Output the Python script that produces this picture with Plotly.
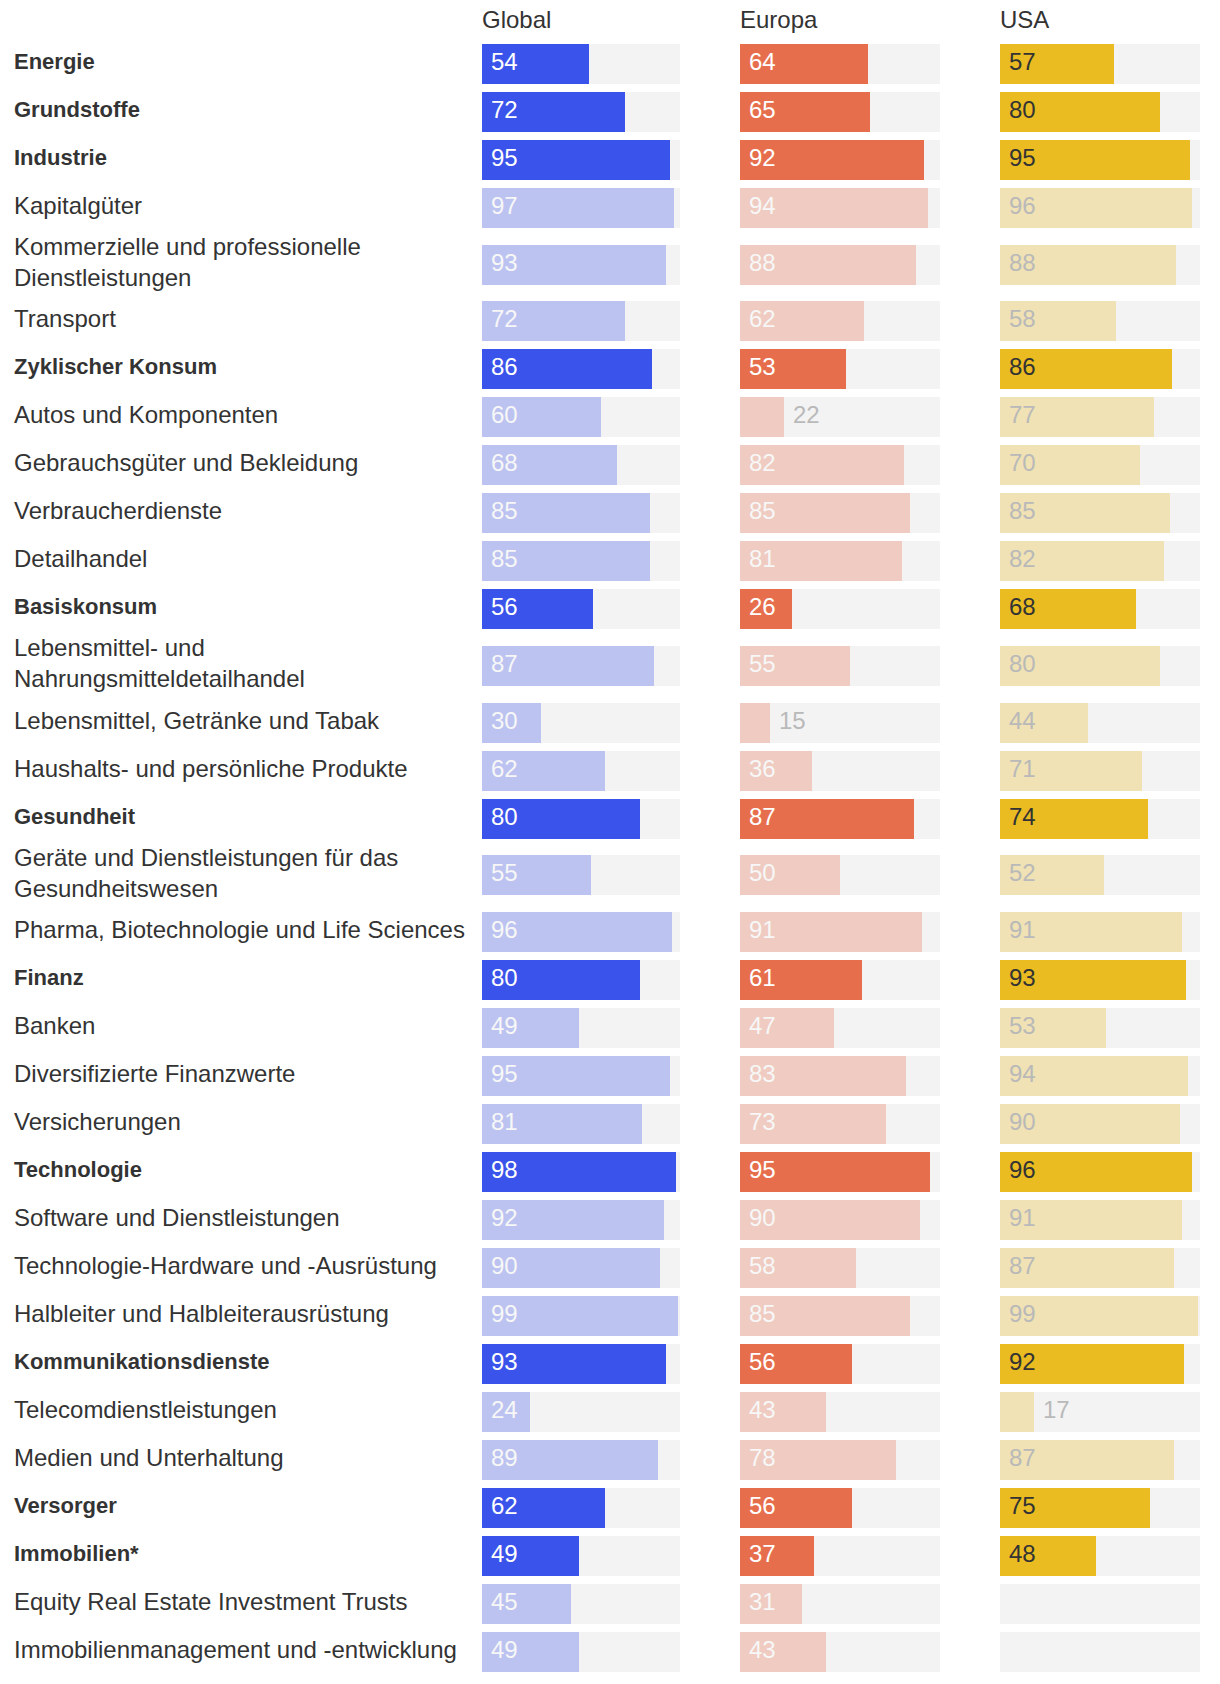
import plotly.graph_objects as go

# ---------------- data ----------------
columns = ["Global", "Europa", "USA"]

labels = [
    "Energie",
    "Grundstoffe",
    "Industrie",
    "Kapitalgüter",
    "Kommerzielle und professionelle<br>Dienstleistungen",
    "Transport",
    "Zyklischer Konsum",
    "Autos und Komponenten",
    "Gebrauchsgüter und Bekleidung",
    "Verbraucherdienste",
    "Detailhandel",
    "Basiskonsum",
    "Lebensmittel- und<br>Nahrungsmitteldetailhandel",
    "Lebensmittel, Getränke und Tabak",
    "Haushalts- und persönliche Produkte",
    "Gesundheit",
    "Geräte und Dienstleistungen für das<br>Gesundheitswesen",
    "Pharma, Biotechnologie und Life Sciences",
    "Finanz",
    "Banken",
    "Diversifizierte Finanzwerte",
    "Versicherungen",
    "Technologie",
    "Software und Dienstleistungen",
    "Technologie-Hardware und -Ausrüstung",
    "Halbleiter und Halbleiterausrüstung",
    "Kommunikationsdienste",
    "Telecomdienstleistungen",
    "Medien und Unterhaltung",
    "Versorger",
    "Immobilien*",
    "Equity Real Estate Investment Trusts",
    "Immobilienmanagement und -entwicklung",
]

is_sector = [
    True, True, True, False, False, False,
    True, False, False, False, False,
    True, False, False, False,
    True, False, False,
    True, False, False, False,
    True, False, False, False,
    True, False, False,
    True,
    True, False, False,
]

global_vals = [54, 72, 95, 97, 93, 72, 86, 60, 68, 85, 85, 56, 87, 30, 62, 80, 55, 96,
               80, 49, 95, 81, 98, 92, 90, 99, 93, 24, 89, 62, 49, 45, 49]
europa_vals = [64, 65, 92, 94, 88, 62, 53, 22, 82, 85, 81, 26, 55, 15, 36, 87, 50, 91,
               61, 47, 83, 73, 95, 90, 58, 85, 56, 43, 78, 56, 37, 31, 43]
usa_vals = [57, 80, 95, 96, 88, 58, 86, 77, 70, 85, 82, 68, 80, 44, 71, 74, 52, 91,
            93, 53, 94, 90, 96, 91, 87, 99, 92, 17, 87, 75, 48, None, None]

series = [global_vals, europa_vals, usa_vals]

# ---------------- styling ----------------
W, H = 1220, 1684
FONT = "Liberation Sans, Arial, Helvetica, sans-serif"
TEXT = "#333333"
TRACK = "#f3f3f3"
REG = 24
BOLD = 22
col_left = [482, 740, 1000]     # page pixels
col_right = [680, 940, 1200]
dark = ["#3a53ea", "#e76e4c", "#eabc22"]
light = ["#bcc3f0", "#efcbc1", "#f0e2b4"]
dark_txt = ["#ffffff", "#ffffff", "#333333"]
light_txt = ["#f7f7f7", "#f7f7f7", "#b9b9b9"]
outside_txt = "#b9b9b9"
BAR_H = 40
TEXT_UP = 2.5

# row layout (pixel units on a reversed y axis)
n_lines = [lab.count("<br>") + 1 for lab in labels]
row_h = [48 + 17.33 * (k - 1) for k in n_lines]
centers = []
top = 40
for h in row_h:
    centers.append(top + h / 2)
    top += h

fig = go.Figure()
annotations = []

for j, vals in enumerate(series):
    xa = "x" if j == 0 else f"x{j+1}"
    fig.add_trace(go.Bar(
        x=[100] * len(labels), y=centers, orientation="h", width=BAR_H,
        marker=dict(color=TRACK, line=dict(width=0)),
        xaxis=xa, yaxis="y", hoverinfo="skip", showlegend=False,
    ))
    ys, xs, cs = [], [], []
    for i, v in enumerate(vals):
        if v is None:
            continue
        ys.append(centers[i])
        xs.append(v)
        cs.append(dark[j] if is_sector[i] else light[j])
        if v < 23:
            tx, tc = v, outside_txt
        else:
            tx, tc = 0, (dark_txt[j] if is_sector[i] else light_txt[j])
        annotations.append(dict(
            x=tx, y=centers[i], xref=xa, yref="y", text=str(v),
            showarrow=False, xanchor="left", yanchor="middle",
            xshift=7, yshift=TEXT_UP,
            font=dict(family=FONT, size=REG, color=tc),
        ))
    fig.add_trace(go.Bar(
        x=xs, y=ys, orientation="h", width=BAR_H,
        marker=dict(color=cs, line=dict(width=0)),
        xaxis=xa, yaxis="y", hoverinfo="skip", showlegend=False,
    ))
    annotations.append(dict(
        x=col_left[j] / W, y=20, xref="paper", yref="y", text=columns[j],
        showarrow=False, xanchor="left", yanchor="middle", xshift=-2, yshift=1,
        font=dict(family=FONT, size=REG, color=TEXT),
    ))

for i, lab in enumerate(labels):
    txt = f"<b>{lab}</b>" if is_sector[i] else lab
    annotations.append(dict(
        x=12 / W, y=centers[i], xref="paper", yref="y", text=txt,
        showarrow=False, xanchor="left", yanchor="middle", align="left",
        yshift=TEXT_UP,
        font=dict(family=FONT, size=BOLD if is_sector[i] else REG, color=TEXT),
    ))

axis_common = dict(visible=False, showgrid=False, zeroline=False, range=[0, 100], fixedrange=True)
fig.update_layout(
    width=W, height=H,
    margin=dict(l=0, r=0, t=0, b=0),
    paper_bgcolor="white", plot_bgcolor="white",
    barmode="overlay", bargap=0,
    xaxis=dict(domain=[col_left[0] / W, col_right[0] / W], anchor="y", **axis_common),
    xaxis2=dict(domain=[col_left[1] / W, col_right[1] / W], anchor="y", **axis_common),
    xaxis3=dict(domain=[col_left[2] / W, col_right[2] / W], anchor="y", **axis_common),
    yaxis=dict(visible=False, range=[H, 0], domain=[0, 1], showgrid=False,
               zeroline=False, fixedrange=True),
    annotations=annotations,
    showlegend=False,
    hovermode=False,
)

fig.write_html(
    "out.html",
    config={"displayModeBar": False, "staticPlot": True},
    post_script="document.body.style.margin='0px'; document.body.style.overflow='hidden';",
)
